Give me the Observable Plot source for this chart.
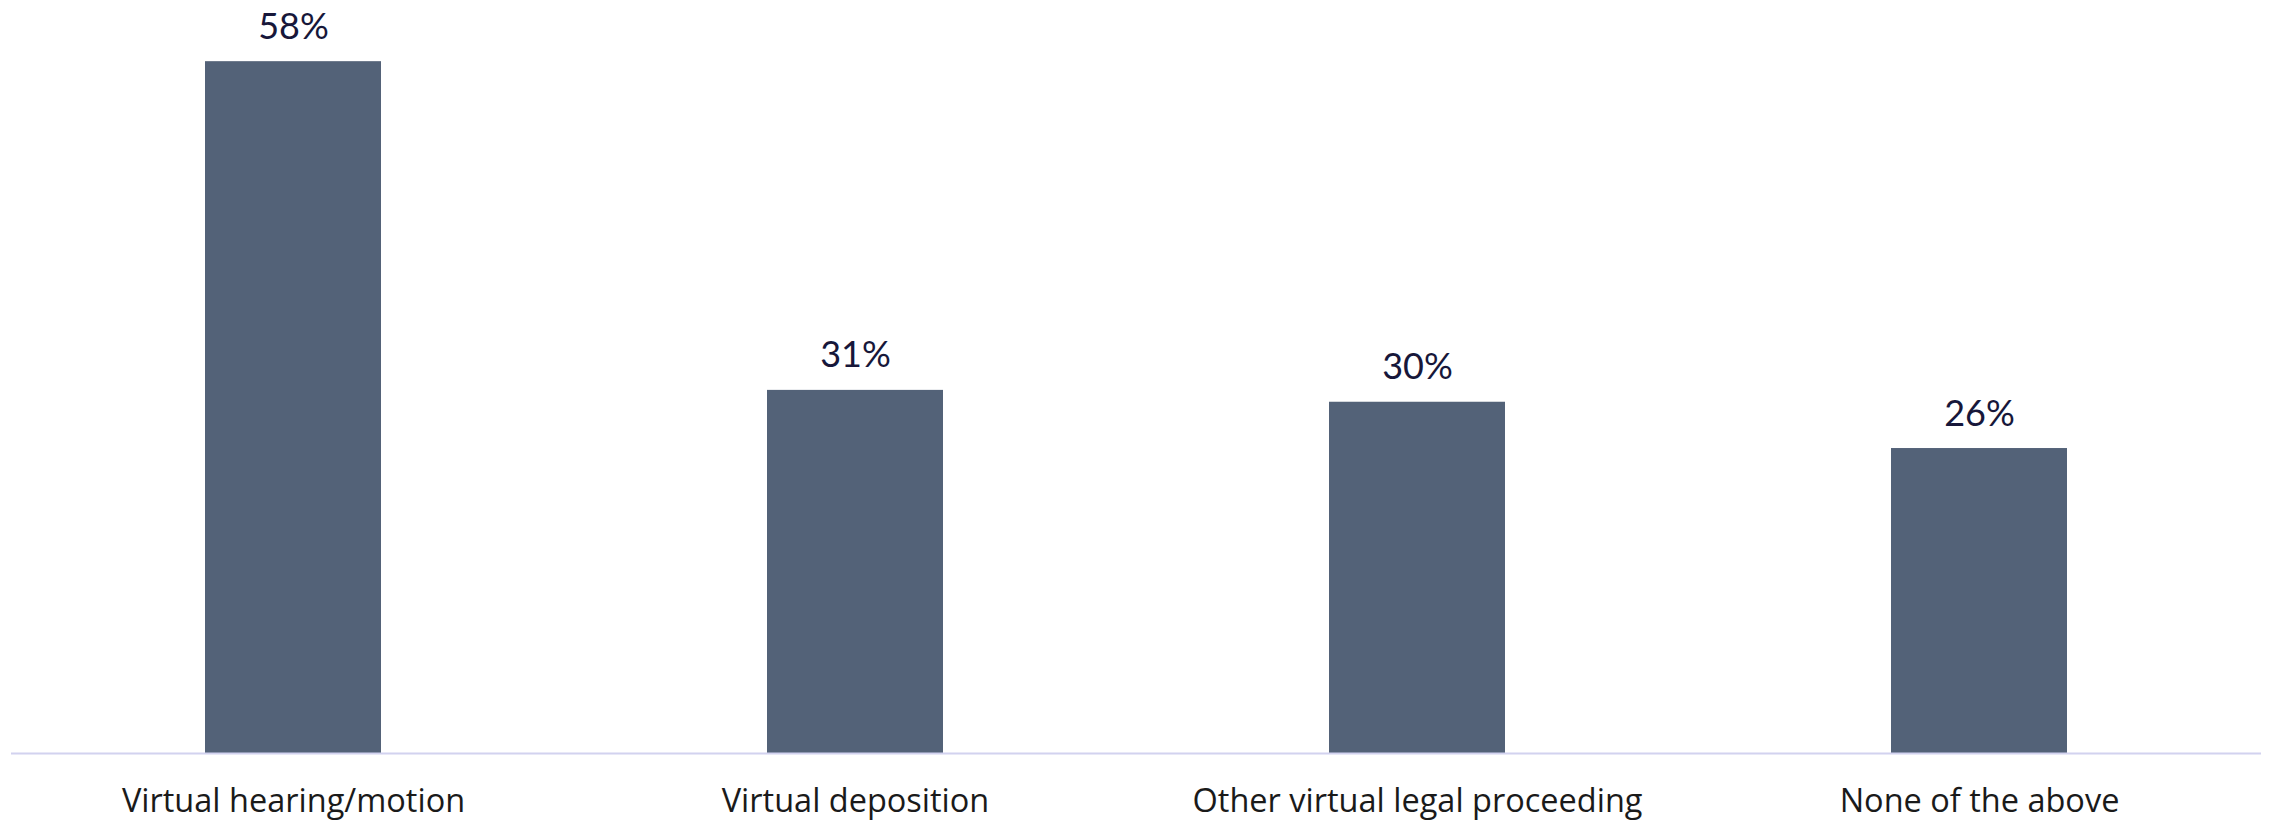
<!DOCTYPE html>
<html>
<head>
<meta charset="utf-8">
<script src="https://cdn.jsdelivr.net/npm/d3@7"></script>
<script src="https://cdn.jsdelivr.net/npm/@observablehq/plot@0.6"></script>
<style>
  html, body { margin: 0; padding: 0; background: #ffffff; }
  #chart svg { display: block; }
</style>
</head>
<body>
<div id="chart"></div>
<script>
const categories = ["Virtual hearing/motion", "Virtual deposition", "Other virtual legal proceeding", "None of the above"];
const values = [58.3, 30.6, 29.6, 25.7];
const valueLabels = ["58%", "31%", "30%", "26%"];

const data = categories.map((c, i) => ({category: c, value: values[i], label: valueLabels[i]}));

const chart = Plot.plot({
  width: 2274,
  height: 821,
  marginTop: 41,
  marginBottom: 68,
  marginLeft: 11,
  marginRight: 13,
  style: {background: "#ffffff", fontFamily: "'Open Sans', sans-serif"},
  x: {domain: categories, paddingInner: 0.686, paddingOuter: 0.343, label: null},
  y: {domain: [0, 60], axis: null},
  marks: [
    Plot.barY(data, {x: "category", y: "value", fill: "#536278"}),
    Plot.ruleY([0], {stroke: "#d2d2ef", strokeWidth: 2}),
    Plot.text(data, {x: "category", y: "value", text: "label", lineAnchor: "bottom", dy: -23, fontSize: 36, fontFamily: "Lato, 'Open Sans', sans-serif", fill: "#17173a"}),
    Plot.axisX({tickSize: 0, tickPadding: 35, fontSize: 32.5, color: "#1a1a1a", label: null})
  ]
});
document.getElementById("chart").appendChild(chart);
</script>
</body>
</html>
